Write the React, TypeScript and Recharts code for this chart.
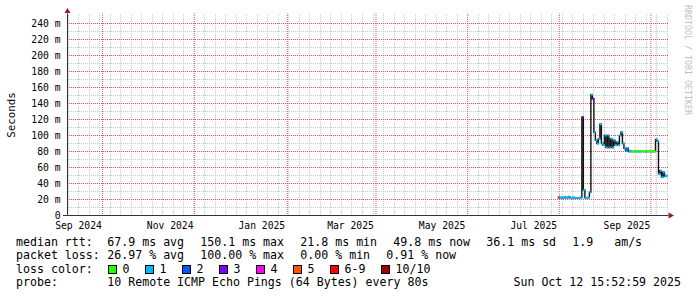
import React from "react";
import { LineChart, Line, XAxis, YAxis, CartesianGrid, ReferenceLine } from "recharts";

// days counted from 1 Sep 2024; window is the last 400 days up to 12 Oct 2025 15:52
const xDomain: [number, number] = [6.66, 406.66];
const yDomain: [number, number] = [0, 252.5];
const firstDay = 333; // 31 Jul 2025, first day with data

// median rtt per day, ms
const medianMs = [
  22.5, 22, 22.5, 22, 23, 22, 22.5, 23.5, 22, 22, 22.5, 22, 22, 21.8, 22, 22.5,
  123, 32, 22, 22, 22.5, 29, 151, 146,
  104, 94, 90, 96, 114, 90, 88, 100, 85, 100, 85, 96, 85, 94, 88, 92, 88, 100, 104, 90, 84, 81, 84,
  80, 80.5, 80, 80, 80.5, 80, 80, 80, 80.5, 80, 80, 80, 80, 80.5, 80, 80, 80, 80,
  95, 93, 52, 56, 48, 54, 49, 49.8,
];

// pings lost out of 10, per day
const lostPings = [
  7, 1, 1, 1, 1, 1, 1, 1, 1, 1, 1, 1, 1, 1, 1, 1,
  3, 1, 1, 1, 1, 1, 1, 3,
  1, 1, 1, 1, 1, 1, 1, 1, 1, 1, 1, 1, 1, 1, 1, 1, 1, 1, 1, 1, 1, 1, 1,
  1, 1, 0, 0, 0, 0, 1, 0, 0, 0, 0, 1, 0, 0, 0, 0, 0, 0,
  1, 1, 1, 1, 1, 1, 1, 1,
];

const xLabelDays = [14, 75, 136, 195, 256, 317, 379];
const xLabels = ["Sep 2024", "Nov 2024", "Jan 2025", "Mar 2025", "May 2025", "Jul 2025", "Sep 2025"];
const monthGridDays = [30, 91, 153, 212, 273, 334, 395];
const weekGridDays = Array.from({ length: 58 }, (_, i) => (i + 1) * 7);

const yTicks = [0, 20, 40, 60, 80, 100, 120, 140, 160, 180, 200, 220, 240];
const yMinorTicks = [10, 30, 50, 70, 90, 110, 130, 150, 170, 190, 210, 230];

const lossLabels = ["0", "1", "2", "3", "4", "5", "6-9", "10/10"];
const lossColors = ["#26ff00", "#00b8ff", "#0059ff", "#7e00ff", "#ff00ff", "#ff5500", "#ff0000", "#a10000"];

const statLabels = ["median rtt:", "packet loss:", "loss color:", "probe:"];
const medianStats = ["67.9 ms avg", "150.1 ms max", "21.8 ms min", "49.8 ms now", "36.1 ms sd", "1.9   am/s"];
const lossStats = ["26.97 % avg", "100.00 % max", "0.00 % min", "0.91 % now"];
const probeText = "10 Remote ICMP Echo Pings (64 Bytes) every 80s";
const stampText = "Sun Oct 12 15:52:59 2025";

const data = medianMs.map((v, i) => ({ day: firstDay + i, median: v, lost: lostPings[i] }));

const MONO = '"DejaVu Sans Mono", monospace';
const CH = 7; // char advance of the legend font
const GAP = 16;
const MGRID = "#e25555";

function lossColor(lost: number) {
  if (lost <= 5) return lossColors[lost];
  if (lost < 10) return lossColors[6];
  return lossColors[7];
}

function chain(items: string[], start: number) {
  const xs: number[] = [];
  let x = start;
  items.forEach((s) => {
    xs.push(x);
    x += s.length * CH + GAP;
  });
  return xs;
}

// snap to pixel centres so the dotted grid stays crisp like rrdtool's
const crisp = (v: number) => Math.round(v - 0.5) + 0.5;

// use the axis scale when the grid hands it over, else map through the plot offset
function gridX(args: any, days: number[]) {
  const s = args?.xAxis?.scale;
  const o = args.offset;
  const f =
    typeof s === "function"
      ? (d: number) => s(d)
      : (d: number) => o.left + ((d - xDomain[0]) / (xDomain[1] - xDomain[0])) * o.width;
  return days.map((d) => crisp(f(d)));
}

function gridY(args: any, vals: number[]) {
  const s = args?.yAxis?.scale;
  const o = args.offset;
  const f =
    typeof s === "function"
      ? (v: number) => s(v)
      : (v: number) => o.top + o.height - ((v - yDomain[0]) / (yDomain[1] - yDomain[0])) * o.height;
  return vals.map((v) => crisp(f(v)));
}

const XTick = (p: any) => {
  const i = xLabelDays.indexOf(p.payload.value);
  return (
    <text x={p.x} y={p.y} dy={13.5} textAnchor="middle" fontFamily={MONO} fontSize={9.7} fill="#000">
      {xLabels[i]}
    </text>
  );
};

const YTick = (p: any) => {
  const v = p.payload.value;
  return (
    <text x={p.x} y={p.y} dy={3.5} textAnchor="end" fontFamily={MONO} fontSize={9.7} fill="#000">
      {v === 0 ? "0" : `${v} m`}
    </text>
  );
};

const LossDot = (p: any) => {
  if (p.cx == null || p.cy == null) return <g key={p.index} />;
  return (
    <rect key={p.index} x={p.cx} y={p.cy - 1} width={2} height={2} fill={lossColor(p.payload.lost)} />
  );
};

export default function App() {
  const col2 = 107.3;
  const medX = chain(medianStats, col2);
  const lossX = chain(lossStats, col2);
  const swX: number[] = [];
  let sx = 108.5;
  lossLabels.forEach((l) => {
    swX.push(sx);
    sx += 14 + l.length * CH + GAP;
  });
  const rows = [245.5, 259, 272.5, 286];

  return (
    <div style={{ position: "absolute", left: 0, top: 0, width: 697, height: 297, background: "#fff" }}>
      <LineChart
        width={697}
        height={297}
        data={data}
        margin={{ top: 13.5, right: 28.5, bottom: 61.5, left: 10.5 }}
      >
        <CartesianGrid
          horizontalCoordinatesGenerator={(a: any) => gridY(a, yMinorTicks)}
          verticalCoordinatesGenerator={(a: any) => gridX(a, weekGridDays)}
          stroke="#c8c8c8"
          strokeDasharray="1 1"
          strokeDashoffset={0.5}
        />
        {yTicks.slice(1).map((v) => (
          <ReferenceLine key={`h${v}`} y={v} stroke={MGRID} strokeDasharray="1 1" strokeDashoffset={0.5} />
        ))}
        {monthGridDays.map((d) => (
          <ReferenceLine key={`v${d}`} x={d} stroke={MGRID} strokeDasharray="1 1" strokeDashoffset={0.5} />
        ))}
        <XAxis
          dataKey="day"
          type="number"
          domain={xDomain}
          allowDataOverflow
          ticks={xLabelDays}
          interval={0}
          height={20}
          tickSize={0}
          tickMargin={0}
          tickLine={false}
          axisLine={{ stroke: "#333" }}
          tick={<XTick />}
        />
        <YAxis
          type="number"
          domain={yDomain}
          allowDataOverflow
          ticks={yTicks}
          interval={0}
          width={57}
          tickSize={0}
          tickMargin={7}
          tickLine={false}
          axisLine={{ stroke: "#333" }}
          tick={<YTick />}
        />
        <Line
          dataKey="median"
          type="stepAfter"
          stroke="#111"
          strokeWidth={1.4}
          dot={LossDot}
          activeDot={false}
          isAnimationActive={false}
        />
      </LineChart>

      <svg
        width={697}
        height={297}
        style={{ position: "absolute", left: 0, top: 0, pointerEvents: "none" }}
        fontFamily={MONO}
      >
        <polygon points="64.5,13 70.5,13 67.5,8" fill="#9b1c1c" />
        <polygon points="668.5,212.5 668.5,218.5 674,215.5" fill="#9b1c1c" />
        <line x1={63} y1={215.5} x2={67.5} y2={215.5} stroke="#333" />

        <text
          x={0}
          y={0}
          transform="translate(14.5,115) rotate(-90)"
          textAnchor="middle"
          fontSize={10.8}
          fill="#000"
        >
          Seconds
        </text>
        <text
          x={0}
          y={0}
          transform="translate(685,60) rotate(90)"
          textAnchor="middle"
          fontSize={8.3}
          fill="#c0c0c0"
        >
          RRDTOOL / TOBI OETIKER
        </text>

        {statLabels.map((s, i) => (
          <text key={s} x={16} y={rows[i]} fontSize={11.6} fill="#000" style={{ whiteSpace: "pre" }}>
            {s}
          </text>
        ))}
        {medianStats.map((s, i) => (
          <text key={s} x={medX[i]} y={rows[0]} fontSize={11.6} fill="#000" style={{ whiteSpace: "pre" }}>
            {s}
          </text>
        ))}
        {lossStats.map((s, i) => (
          <text key={s} x={lossX[i]} y={rows[1]} fontSize={11.6} fill="#000" style={{ whiteSpace: "pre" }}>
            {s}
          </text>
        ))}
        {lossLabels.map((l, i) => (
          <g key={l}>
            <rect x={swX[i]} y={265.5} width={8} height={8} fill={lossColors[i]} stroke="#000" strokeWidth={1} />
            <text x={swX[i] + 14} y={rows[2]} fontSize={11.6} fill="#000">
              {l}
            </text>
          </g>
        ))}
        <text x={col2} y={rows[3]} fontSize={11.6} fill="#000">
          {probeText}
        </text>
        <text x={681} y={rows[3]} textAnchor="end" fontSize={11.6} fill="#000">
          {stampText}
        </text>
      </svg>
    </div>
  );
}
